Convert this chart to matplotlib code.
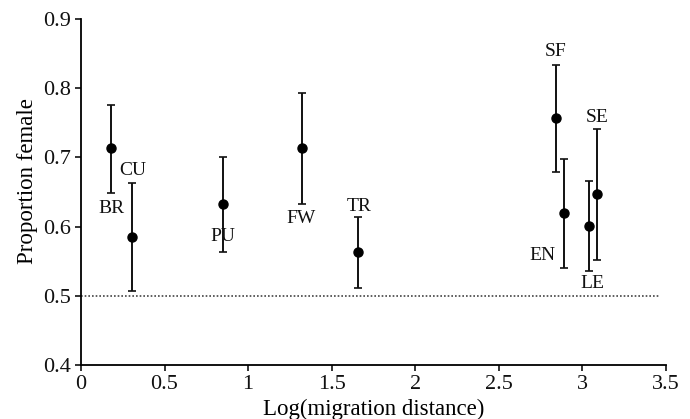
import matplotlib
matplotlib.use('Agg')
import matplotlib.pyplot as plt
import numpy as np

plt.rcParams['font.family'] = ['Liberation Serif', 'DejaVu Serif']

# data
sites = ['BR', 'CU', 'PU', 'FW', 'TR', 'SF', 'EN', 'LE', 'SE']
log_dist = [0.18, 0.305, 0.85, 1.32, 1.66, 2.84, 2.89, 3.04, 3.09]
prop_female = [0.713, 0.585, 0.633, 0.714, 0.563, 0.757, 0.620, 0.601, 0.647]
ci_low = [0.649, 0.507, 0.563, 0.633, 0.511, 0.679, 0.540, 0.536, 0.552]
ci_high = [0.776, 0.663, 0.700, 0.793, 0.614, 0.834, 0.698, 0.666, 0.741]

# label offsets (pixels) from each point
label_off = {'BR': (0, -60), 'CU': (1, 66), 'PU': (0, -33), 'FW': (-1, -71),
             'TR': (1, 46), 'SF': (0, 66), 'EN': (-21, -43), 'LE': (3, -58),
             'SE': (0, 76)}

x = np.array(log_dist)
y = np.array(prop_female)
yerr = [y - np.array(ci_low), np.array(ci_high) - y]

fig = plt.figure(figsize=(6.9, 4.19), dpi=100)
ax = fig.add_axes([0.1174, 0.129, 0.8476, 0.826])

ax.axhline(0.5, xmin=0, xmax=3.46 / 3.5, color='#444444', linestyle=(0, (1, 1.2)), linewidth=1.2)
ax.errorbar(x, y, yerr=yerr, fmt='o', color='black', markersize=6.5,
            elinewidth=1.4, capsize=3, capthick=1.2, ecolor='#111111')

for s, xi, yi in zip(sites, x, y):
    dx, dy = label_off[s]
    ax.annotate(s, (xi, yi), xytext=(dx, dy), textcoords='offset pixels',
                ha='center', va='center', fontsize=14, color='#111111')

ax.set_xlim(0, 3.5)
ax.set_ylim(0.4, 0.9)
ax.set_xticks([0, 0.5, 1, 1.5, 2, 2.5, 3, 3.5])
ax.set_xticklabels(['0', '0.5', '1', '1.5', '2', '2.5', '3', '3.5'])
ax.set_yticks([0.4, 0.5, 0.6, 0.7, 0.8, 0.9])
ax.set_yticklabels(['0.4', '0.5', '0.6', '0.7', '0.8', '0.9'])
ax.tick_params(direction='out', length=4, width=1.2, labelsize=16, colors='#111111', pad=3)
for side in ['top', 'right']:
    ax.spines[side].set_visible(False)
for side in ['left', 'bottom']:
    ax.spines[side].set_linewidth(1.3)

ax.set_xlabel('Log(migration distance)', fontsize=16.5, labelpad=4)
ax.set_ylabel('Proportion female', fontsize=16.5, labelpad=4)
ax.yaxis.label.set_y(0.53)

fig.savefig('out.png', dpi=100)
